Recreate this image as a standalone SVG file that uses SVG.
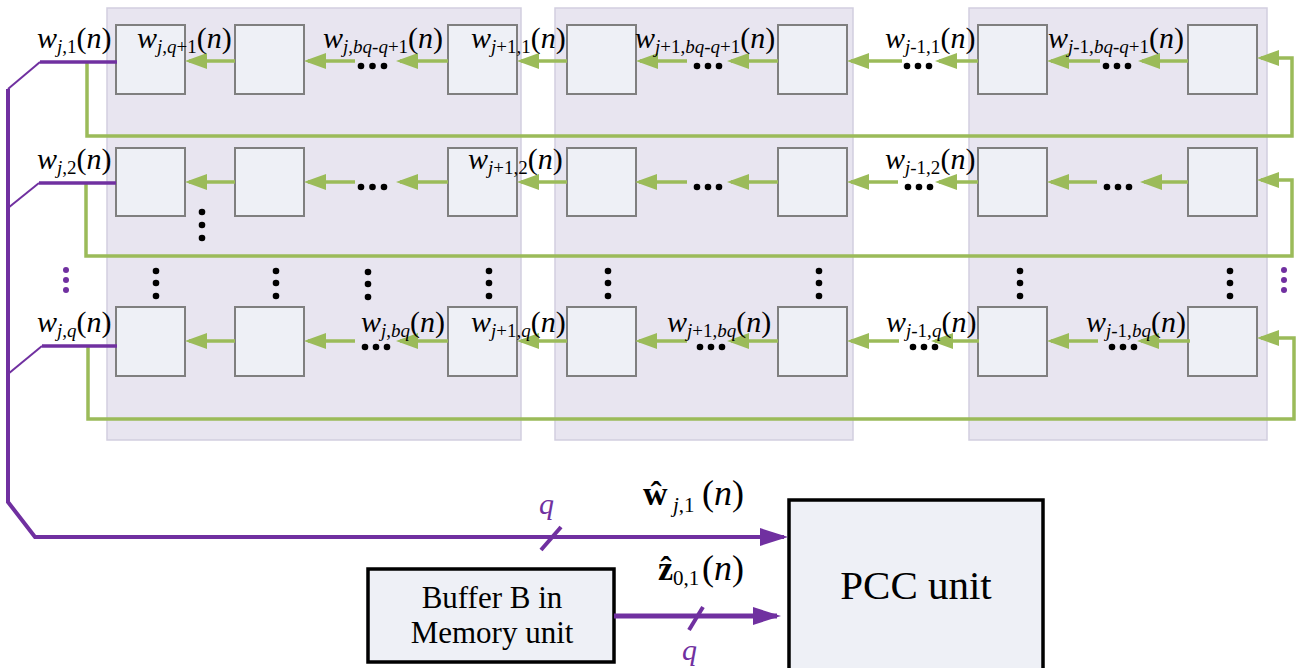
<svg xmlns="http://www.w3.org/2000/svg" width="1300" height="668" viewBox="0 0 1300 668">
<defs>
<style>
.panel{fill:#E8E5F0;stroke:#D2CEDF;stroke-width:1.5}
.box{fill:#EEF0F6;stroke:#7F7F7F;stroke-width:2}
.bbox{fill:#EEF0F6;stroke:#000;stroke-width:3.5}
.ga{stroke:#9BBB59;stroke-width:3.5;fill:none;marker-end:url(#ga)}
.p{stroke:#7030A0;fill:none}
.lbl{font-size:30px;fill:#000}
.it{font-style:italic}
.sub{font-size:19px}
.dot{fill:#000}
.pdot{fill:#7030A0}
.txt{fill:#000;text-anchor:middle}
</style>
<marker id="ga" viewBox="0 0 22 16" refX="18" refY="8" markerWidth="22" markerHeight="16" markerUnits="userSpaceOnUse" orient="auto">
<path d="M0,0 L22,8 L0,16 Z" fill="#9BBB59"/>
</marker>
<marker id="pa" viewBox="0 0 28 18" refX="24" refY="9" markerWidth="28" markerHeight="18" markerUnits="userSpaceOnUse" orient="auto">
<path d="M0,0 L28,9 L0,18 Z" fill="#7030A0"/>
</marker>
</defs>
<rect width="1300" height="668" fill="#fff"/>

<g id="panels">
<rect class="panel" x="107" y="8" width="414" height="432"/>
<rect class="panel" x="555" y="8" width="298" height="432"/>
<rect class="panel" x="969" y="8" width="298" height="432"/>
</g>

<g id="nodes">
<g id="r1"><rect class="box" x="116" y="25" width="69" height="69"/><rect class="box" x="235" y="25" width="69" height="69"/><rect class="box" x="448" y="25" width="69" height="69"/><rect class="box" x="567" y="25" width="69" height="69"/><rect class="box" x="778" y="25" width="69" height="69"/><rect class="box" x="978" y="25" width="69" height="69"/><rect class="box" x="1188" y="25" width="69" height="69"/></g>
<g id="r2"><rect class="box" x="116" y="148" width="69" height="68"/><rect class="box" x="235" y="148" width="69" height="68"/><rect class="box" x="448" y="148" width="69" height="68"/><rect class="box" x="567" y="148" width="69" height="68"/><rect class="box" x="778" y="148" width="69" height="68"/><rect class="box" x="978" y="148" width="69" height="68"/><rect class="box" x="1188" y="148" width="69" height="68"/></g>
<g id="rq"><rect class="box" x="116" y="307" width="69" height="69"/><rect class="box" x="235" y="307" width="69" height="69"/><rect class="box" x="448" y="307" width="69" height="69"/><rect class="box" x="567" y="307" width="69" height="69"/><rect class="box" x="778" y="307" width="69" height="69"/><rect class="box" x="978" y="307" width="69" height="69"/><rect class="box" x="1188" y="307" width="69" height="69"/></g>
<g id="buffer"><rect class="bbox" x="368" y="569" width="246" height="93"/>
<text class="txt" x="492" y="608" font-size="31" font-family="serif">Buffer B in</text>
<text class="txt" x="492" y="643" font-size="31" font-family="serif">Memory unit</text></g>
<g id="pcc"><rect class="bbox" x="789" y="500" width="254" height="200"/>
<text class="txt" x="916" y="599" font-size="41" font-family="serif">PCC unit</text></g>
</g>

<g id="connectors">
<line class="ga" x1="235" y1="61" x2="189" y2="61"/>
<line class="ga" x1="355" y1="61" x2="308" y2="61"/>
<line class="ga" x1="448" y1="61" x2="400" y2="61"/>
<line class="ga" x1="567" y1="61" x2="521" y2="61"/>
<line class="ga" x1="687" y1="61" x2="640" y2="61"/>
<line class="ga" x1="778" y1="61" x2="731" y2="61"/>
<line class="ga" x1="902" y1="61" x2="851" y2="61"/>
<line class="ga" x1="978" y1="61" x2="939" y2="61"/>
<line class="ga" x1="1100" y1="61" x2="1051" y2="61"/>
<line class="ga" x1="1188" y1="61" x2="1142" y2="61"/>
<path class="ga" d="M87,62 V136 H1292 V58 H1261"/>
<line class="ga" x1="235" y1="182" x2="189" y2="182"/>
<line class="ga" x1="355" y1="182" x2="308" y2="182"/>
<line class="ga" x1="448" y1="182" x2="400" y2="182"/>
<line class="ga" x1="567" y1="182" x2="521" y2="182"/>
<line class="ga" x1="687" y1="182" x2="639" y2="182"/>
<line class="ga" x1="778" y1="182" x2="731" y2="182"/>
<line class="ga" x1="898" y1="182" x2="851" y2="182"/>
<line class="ga" x1="978" y1="182" x2="939" y2="182"/>
<line class="ga" x1="1097" y1="182" x2="1051" y2="182"/>
<line class="ga" x1="1188" y1="182" x2="1144" y2="182"/>
<path class="ga" d="M86,183 V256 H1292 V180 H1261"/>
<line class="ga" x1="235" y1="341" x2="189" y2="341"/>
<line class="ga" x1="355" y1="341" x2="308" y2="341"/>
<line class="ga" x1="448" y1="341" x2="400" y2="341"/>
<line class="ga" x1="567" y1="341" x2="521" y2="341"/>
<line class="ga" x1="687" y1="341" x2="639" y2="341"/>
<line class="ga" x1="778" y1="341" x2="731" y2="341"/>
<line class="ga" x1="899" y1="341" x2="851" y2="341"/>
<line class="ga" x1="979" y1="341" x2="935" y2="341"/>
<line class="ga" x1="1098" y1="341" x2="1051" y2="341"/>
<line class="ga" x1="1190" y1="341" x2="1141" y2="341"/>
<path class="ga" d="M88,346 V419 H1294 V338 H1261"/>
<path class="p" stroke-width="4" d="M8,89 V502 L35,537 H784" marker-end="url(#pa)"/>
<line class="p" stroke-width="2" x1="8" y1="89" x2="40" y2="62"/>
<line class="p" stroke-width="2" x1="8" y1="208" x2="39" y2="183"/>
<line class="p" stroke-width="2" x1="8" y1="374" x2="42" y2="346"/>
<line class="p" stroke-width="3.5" x1="40" y1="62" x2="117" y2="62"/>
<line class="p" stroke-width="3.5" x1="39" y1="183" x2="116" y2="183"/>
<line class="p" stroke-width="3.5" x1="42" y1="346" x2="117" y2="346"/>
<line class="p" stroke-width="5" x1="614" y1="616" x2="777" y2="616" marker-end="url(#pa)"/>
<line class="p" stroke-width="4" x1="541" y1="550" x2="561" y2="527"/>
<line class="p" stroke-width="4" x1="689" y1="630" x2="703" y2="607"/>
</g>

<g id="dots">
<circle class="dot" cx="361" cy="66" r="3.3"/><circle class="dot" cx="372.5" cy="66" r="3.3"/><circle class="dot" cx="384" cy="66" r="3.3"/>
<circle class="dot" cx="697" cy="66" r="3.3"/><circle class="dot" cx="708" cy="66" r="3.3"/><circle class="dot" cx="719" cy="66" r="3.3"/>
<circle class="dot" cx="907" cy="66" r="3.3"/><circle class="dot" cx="918" cy="66" r="3.3"/><circle class="dot" cx="929" cy="66" r="3.3"/>
<circle class="dot" cx="1106" cy="66" r="3.3"/><circle class="dot" cx="1117" cy="66" r="3.3"/><circle class="dot" cx="1128" cy="66" r="3.3"/>
<circle class="dot" cx="361" cy="187" r="3.3"/><circle class="dot" cx="372.5" cy="187" r="3.3"/><circle class="dot" cx="384" cy="187" r="3.3"/>
<circle class="dot" cx="697" cy="187" r="3.3"/><circle class="dot" cx="708" cy="187" r="3.3"/><circle class="dot" cx="719" cy="187" r="3.3"/>
<circle class="dot" cx="908" cy="187" r="3.3"/><circle class="dot" cx="919" cy="187" r="3.3"/><circle class="dot" cx="930" cy="187" r="3.3"/>
<circle class="dot" cx="1107" cy="187" r="3.3"/><circle class="dot" cx="1118" cy="187" r="3.3"/><circle class="dot" cx="1129" cy="187" r="3.3"/>
<circle class="dot" cx="365" cy="347" r="3.3"/><circle class="dot" cx="376" cy="347" r="3.3"/><circle class="dot" cx="387" cy="347" r="3.3"/>
<circle class="dot" cx="700" cy="347" r="3.3"/><circle class="dot" cx="711" cy="347" r="3.3"/><circle class="dot" cx="722" cy="347" r="3.3"/>
<circle class="dot" cx="913" cy="347" r="3.3"/><circle class="dot" cx="924" cy="347" r="3.3"/><circle class="dot" cx="935" cy="347" r="3.3"/>
<circle class="dot" cx="1112" cy="347" r="3.3"/><circle class="dot" cx="1123" cy="347" r="3.3"/><circle class="dot" cx="1134" cy="347" r="3.3"/>
<circle class="dot" cx="202" cy="212" r="3.3"/><circle class="dot" cx="202" cy="225" r="3.3"/><circle class="dot" cx="202" cy="238" r="3.3"/>
<circle class="dot" cx="156" cy="271" r="3.3"/><circle class="dot" cx="156" cy="283" r="3.3"/><circle class="dot" cx="156" cy="296" r="3.3"/>
<circle class="dot" cx="276" cy="271" r="3.3"/><circle class="dot" cx="276" cy="283" r="3.3"/><circle class="dot" cx="276" cy="296" r="3.3"/>
<circle class="dot" cx="368" cy="272" r="3.3"/><circle class="dot" cx="368" cy="284" r="3.3"/><circle class="dot" cx="368" cy="297" r="3.3"/>
<circle class="dot" cx="489" cy="271" r="3.3"/><circle class="dot" cx="489" cy="283" r="3.3"/><circle class="dot" cx="489" cy="296" r="3.3"/>
<circle class="dot" cx="608" cy="271" r="3.3"/><circle class="dot" cx="608" cy="283" r="3.3"/><circle class="dot" cx="608" cy="296" r="3.3"/>
<circle class="dot" cx="819" cy="271" r="3.3"/><circle class="dot" cx="819" cy="283" r="3.3"/><circle class="dot" cx="819" cy="296" r="3.3"/>
<circle class="dot" cx="1020" cy="271" r="3.3"/><circle class="dot" cx="1020" cy="283" r="3.3"/><circle class="dot" cx="1020" cy="296" r="3.3"/>
<circle class="dot" cx="1230" cy="271" r="3.3"/><circle class="dot" cx="1230" cy="283" r="3.3"/><circle class="dot" cx="1230" cy="296" r="3.3"/>
<circle class="pdot" cx="66" cy="270" r="3"/><circle class="pdot" cx="66" cy="280" r="3"/><circle class="pdot" cx="66" cy="290" r="3"/>
<circle class="pdot" cx="1284" cy="270" r="3"/><circle class="pdot" cx="1284" cy="280" r="3"/><circle class="pdot" cx="1284" cy="290" r="3"/>
</g>

<g id="labels" font-family="serif">
<text class="lbl" x="37" y="48"><tspan class="it">w</tspan><tspan class="sub" dy="5"><tspan class="it">j</tspan>,1</tspan><tspan dy="-5">(</tspan><tspan class="it">n</tspan>)</text>
<text class="lbl" x="137" y="48"><tspan class="it">w</tspan><tspan class="sub" dy="5"><tspan class="it">j</tspan>,<tspan class="it">q</tspan>+1</tspan><tspan dy="-5">(</tspan><tspan class="it">n</tspan>)</text>
<text class="lbl" x="323" y="48"><tspan class="it">w</tspan><tspan class="sub" dy="5"><tspan class="it">j</tspan>,<tspan class="it">bq</tspan>-<tspan class="it">q</tspan>+1</tspan><tspan dy="-5">(</tspan><tspan class="it">n</tspan>)</text>
<text class="lbl" x="471" y="48"><tspan class="it">w</tspan><tspan class="sub" dy="5"><tspan class="it">j</tspan>+1,1</tspan><tspan dy="-5">(</tspan><tspan class="it">n</tspan>)</text>
<text class="lbl" x="635" y="48"><tspan class="it">w</tspan><tspan class="sub" dy="5"><tspan class="it">j</tspan>+1,<tspan class="it">bq</tspan>-<tspan class="it">q</tspan>+1</tspan><tspan dy="-5">(</tspan><tspan class="it">n</tspan>)</text>
<text class="lbl" x="885" y="48"><tspan class="it">w</tspan><tspan class="sub" dy="5"><tspan class="it">j</tspan>-1,1</tspan><tspan dy="-5">(</tspan><tspan class="it">n</tspan>)</text>
<text class="lbl" x="1048" y="48"><tspan class="it">w</tspan><tspan class="sub" dy="5"><tspan class="it">j</tspan>-1,<tspan class="it">bq</tspan>-<tspan class="it">q</tspan>+1</tspan><tspan dy="-5">(</tspan><tspan class="it">n</tspan>)</text>

<text class="lbl" x="37" y="169"><tspan class="it">w</tspan><tspan class="sub" dy="5"><tspan class="it">j</tspan>,2</tspan><tspan dy="-5">(</tspan><tspan class="it">n</tspan>)</text>
<text class="lbl" x="468" y="169"><tspan class="it">w</tspan><tspan class="sub" dy="5"><tspan class="it">j</tspan>+1,2</tspan><tspan dy="-5">(</tspan><tspan class="it">n</tspan>)</text>
<text class="lbl" x="885" y="169"><tspan class="it">w</tspan><tspan class="sub" dy="5"><tspan class="it">j</tspan>-1,2</tspan><tspan dy="-5">(</tspan><tspan class="it">n</tspan>)</text>

<text class="lbl" x="37" y="332"><tspan class="it">w</tspan><tspan class="sub" dy="5"><tspan class="it">j</tspan>,<tspan class="it">q</tspan></tspan><tspan dy="-5">(</tspan><tspan class="it">n</tspan>)</text>
<text class="lbl" x="361" y="332"><tspan class="it">w</tspan><tspan class="sub" dy="5"><tspan class="it">j</tspan>,<tspan class="it">bq</tspan></tspan><tspan dy="-5">(</tspan><tspan class="it">n</tspan>)</text>
<text class="lbl" x="471" y="332"><tspan class="it">w</tspan><tspan class="sub" dy="5"><tspan class="it">j</tspan>+1,<tspan class="it">q</tspan></tspan><tspan dy="-5">(</tspan><tspan class="it">n</tspan>)</text>
<text class="lbl" x="667" y="332"><tspan class="it">w</tspan><tspan class="sub" dy="5"><tspan class="it">j</tspan>+1,<tspan class="it">bq</tspan></tspan><tspan dy="-5">(</tspan><tspan class="it">n</tspan>)</text>
<text class="lbl" x="886" y="332"><tspan class="it">w</tspan><tspan class="sub" dy="5"><tspan class="it">j</tspan>-1,<tspan class="it">q</tspan></tspan><tspan dy="-5">(</tspan><tspan class="it">n</tspan>)</text>
<text class="lbl" x="1086" y="332"><tspan class="it">w</tspan><tspan class="sub" dy="5"><tspan class="it">j</tspan>-1,<tspan class="it">bq</tspan></tspan><tspan dy="-5">(</tspan><tspan class="it">n</tspan>)</text>

<text class="lbl" x="643" y="505"><tspan font-weight="bold" font-size="34">ŵ</tspan><tspan x="673" dy="7" font-size="21"><tspan class="it">j</tspan>,1</tspan><tspan x="702" dy="-7" font-size="36">(</tspan><tspan class="it" font-size="36">n</tspan><tspan font-size="36">)</tspan></text>
<text class="lbl" x="658" y="580"><tspan font-weight="bold" font-size="34">ẑ</tspan><tspan dy="5" font-size="21">0,1</tspan><tspan x="702" dy="-5" font-size="36">(</tspan><tspan class="it" font-size="36">n</tspan><tspan font-size="36">)</tspan></text>
<text class="lbl it" x="539" y="514" font-size="40" style="fill:#7030A0">q</text>
<text class="lbl it" x="682" y="660" font-size="40" style="fill:#7030A0">q</text>
</g>
</svg>
